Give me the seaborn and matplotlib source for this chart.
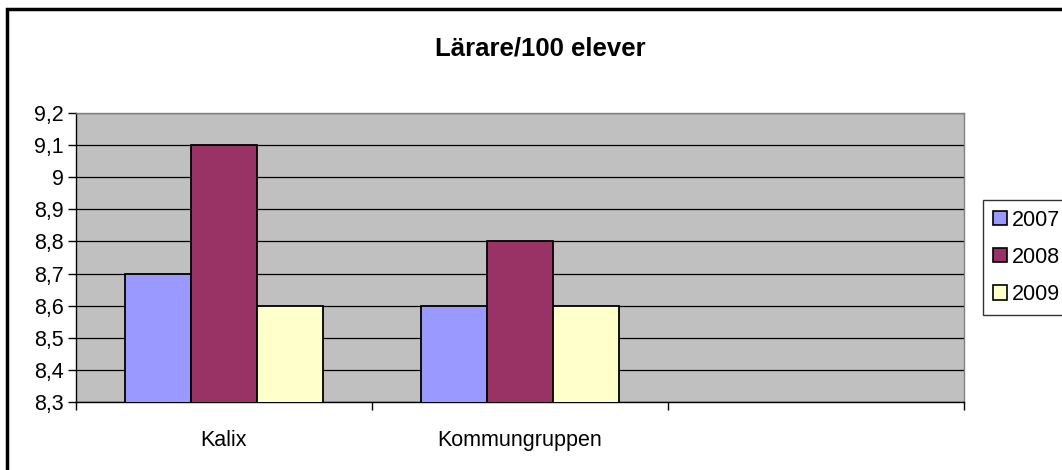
import matplotlib
matplotlib.use("Agg")
import matplotlib.pyplot as plt
import matplotlib.ticker as mticker
from matplotlib.patches import Rectangle
import pandas as pd
import seaborn as sns

# data
kommuner = ["Kalix", "Kommungruppen"]
slots = ["Kalix", "Kommungruppen", ""]
years = ["2007", "2008", "2009"]
values = {
    "2007": [8.7, 8.6],
    "2008": [9.1, 8.8],
    "2009": [8.6, 8.6],
}
colors = ["#9999FF", "#993366", "#FFFFCC"]

rows = []
for yr in years:
    for k, v in zip(kommuner, values[yr]):
        rows.append({"kommun": k, "year": yr, "value": v})
df = pd.DataFrame(rows)

sns.set_style("white")
plt.rcParams['font.family'] = ['Liberation Sans', 'DejaVu Sans']
plt.rcParams['text.color'] = 'black'
plt.rcParams['xtick.color'] = 'black'
plt.rcParams['ytick.color'] = 'black'

fig = plt.figure(figsize=(10.62, 4.70), dpi=100)
ax = fig.add_axes([76 / 1062, 1 - 402 / 470, 888 / 1062, 289 / 470])
ax.set_facecolor("#C0C0C0")

sns.barplot(data=df, x="kommun", y="value", hue="year", order=slots,
            hue_order=years, palette=colors, saturation=1, width=2 / 3, ax=ax,
            edgecolor="black", linewidth=1.3, legend=False, zorder=3)

ax.set_ylim(8.3, 9.2)
ax.yaxis.set_major_locator(mticker.MultipleLocator(0.1))
ax.yaxis.set_major_formatter(mticker.FuncFormatter(
    lambda v, p: ("%g" % round(v, 1)).replace(".", ",")))
ax.grid(axis="y", color="black", linewidth=0.9, zorder=1)
ax.set_axisbelow(True)
ax.set_xlim(-0.5, 2.5)
ax.set_xticks([0, 1, 2])
ax.set_xticklabels(slots)
ax.set_xticks([-0.5, 0.5, 1.5, 2.5], minor=True)
ax.tick_params(axis="x", which="major", length=0, labelsize=15.5, pad=20)
ax.tick_params(axis="x", which="minor", length=6, width=1, color="black",
               direction="out", bottom=True)
ax.tick_params(axis="y", length=6, width=1, color="black", direction="out",
               left=True, labelsize=15.5, pad=3)
ax.set_xlabel("")
ax.set_ylabel("")
for side in ["top", "right"]:
    ax.spines[side].set_color("#808080")
    ax.spines[side].set_linewidth(1)
for side in ["left", "bottom"]:
    ax.spines[side].set_color("black")
    ax.spines[side].set_linewidth(1)

fig.text(540 / 1062, 1 - 48 / 470, "Lärare/100 elever", ha="center",
         va="center", fontsize=18.5, fontweight="bold")

handles = [Rectangle((0, 0), 1, 1, facecolor=c, edgecolor="black", linewidth=1.2)
           for c in colors]
leg = fig.legend(handles, years, loc="upper left",
                 bbox_to_anchor=(983 / 1062, 1 - 200 / 470),
                 frameon=True, fontsize=15.5, handlelength=0.65, handleheight=0.65,
                 handletextpad=0.25, labelspacing=0.75, borderpad=0.45,
                 borderaxespad=0, fancybox=False)
leg.get_frame().set_edgecolor("black")
leg.get_frame().set_linewidth(1)

# outer chart border
fig.patches.append(Rectangle((7 / 1062, -0.05), 1.1, 1 - 9 / 470 + 0.05,
                             transform=fig.transFigure, fill=False,
                             edgecolor="black", linewidth=2.5))

fig.savefig("out.png", dpi=100)
